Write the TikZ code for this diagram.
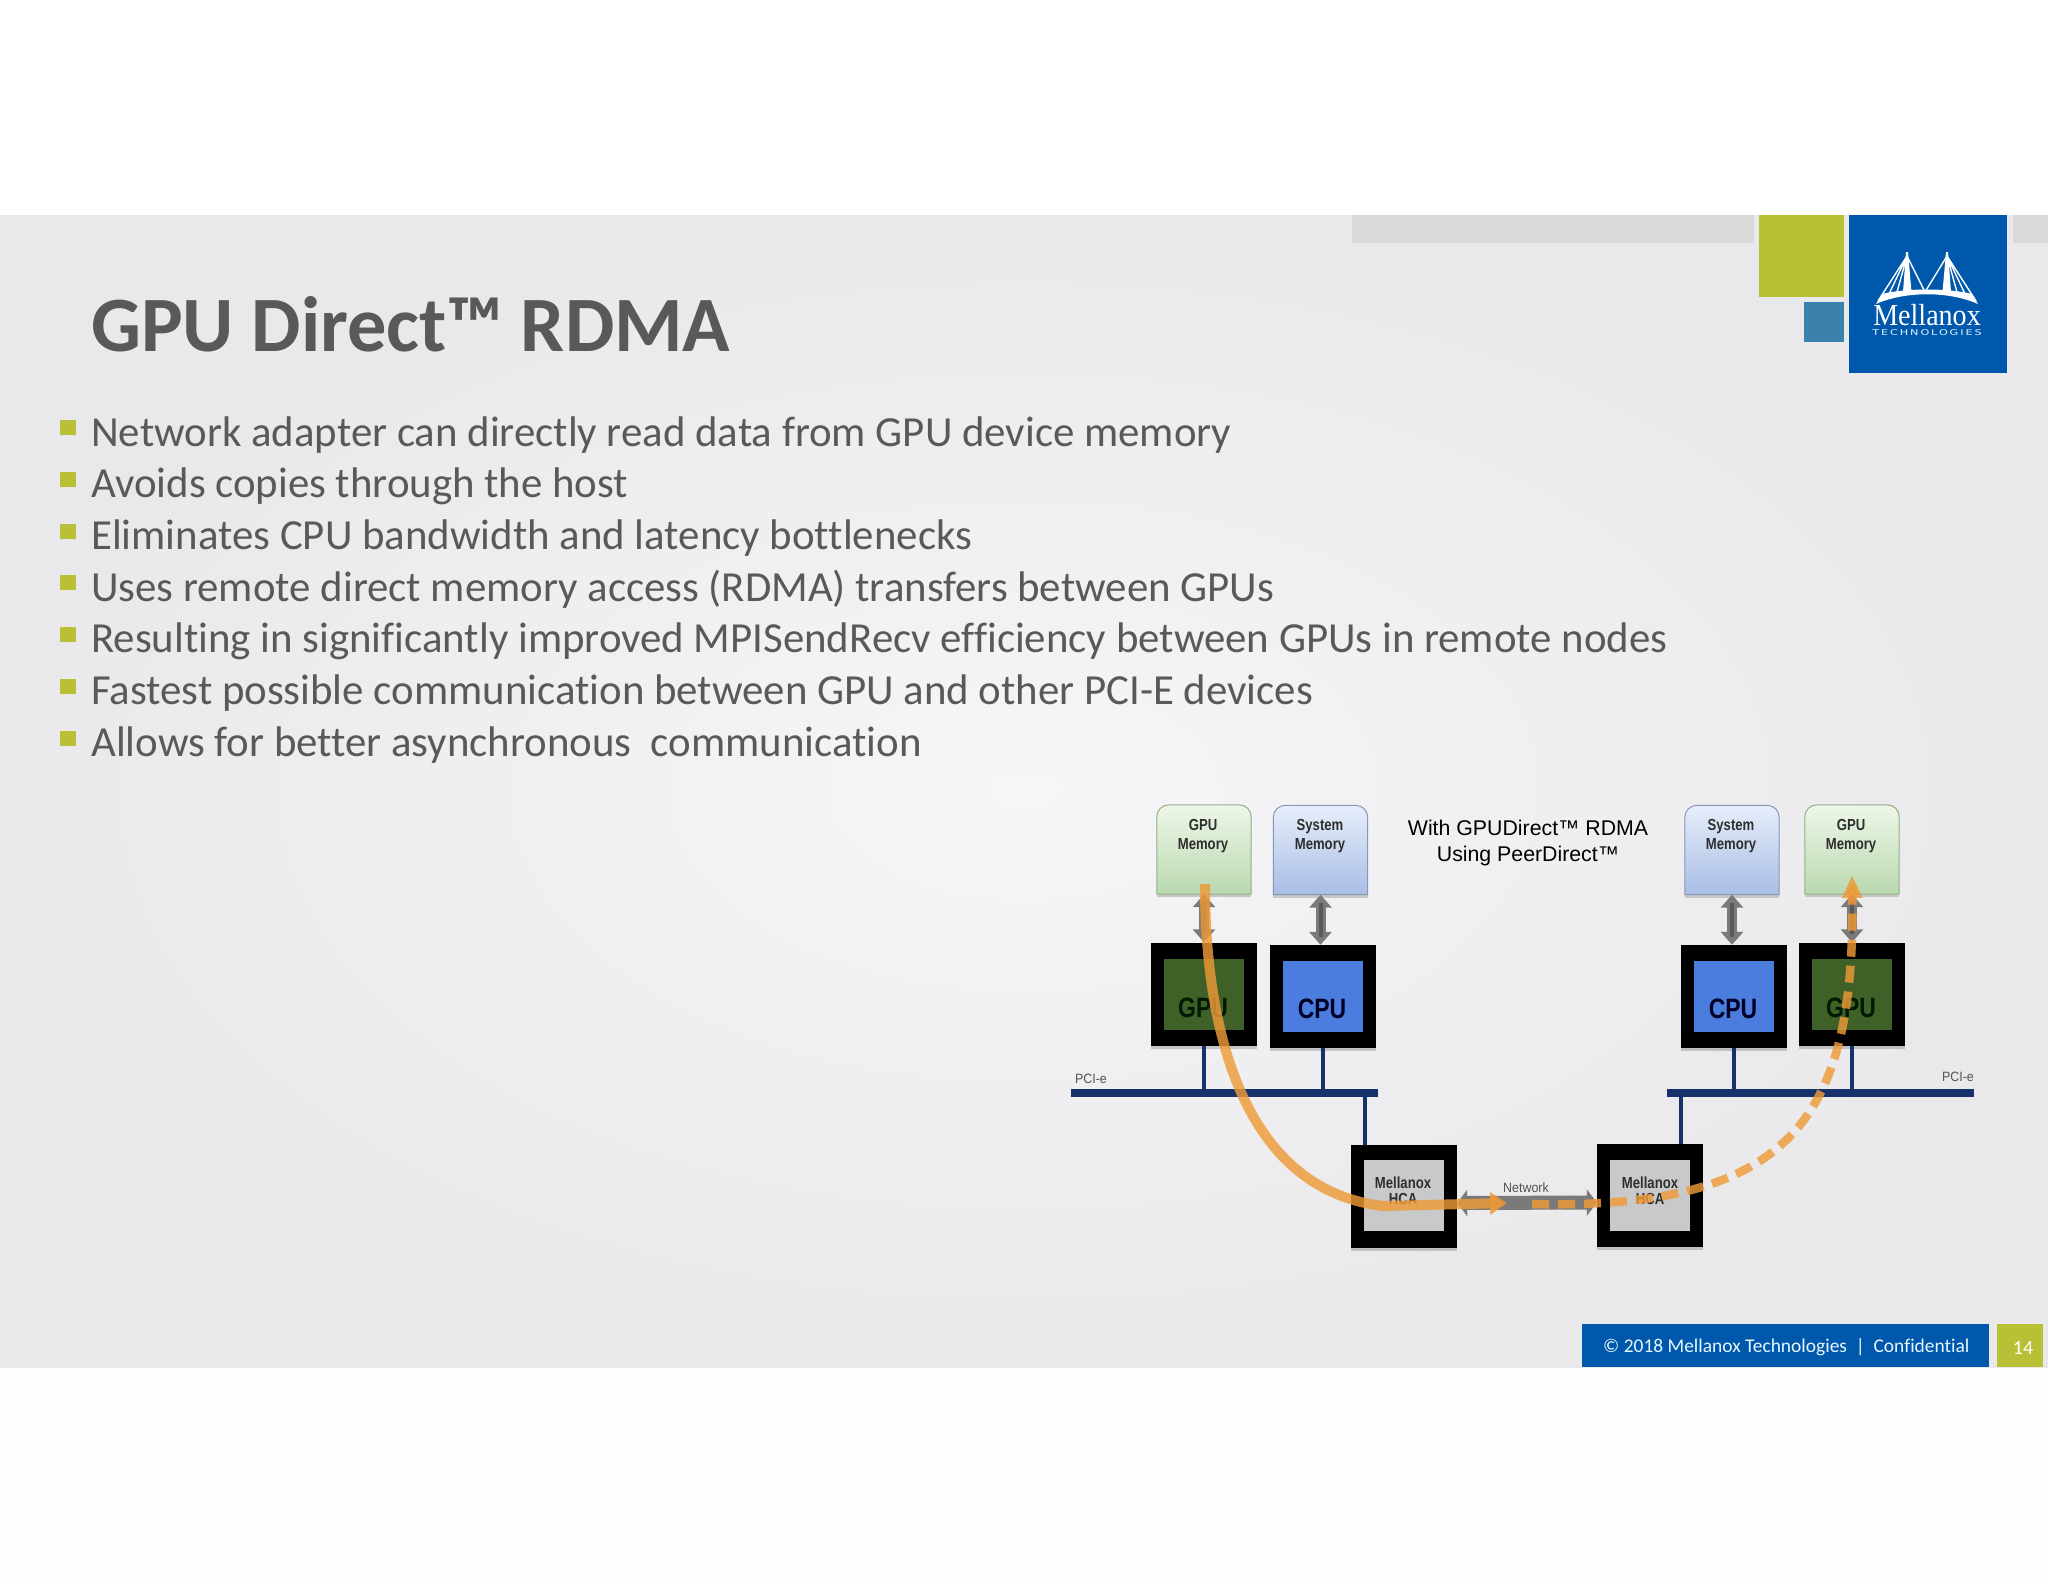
\documentclass[tikz,border=0pt]{standalone}
\usepackage{fontspec}
\usetikzlibrary{arrows.meta,shadows}
\setmainfont[Ligatures=NoCommon]{Carlito}
\newfontfamily\arialf{Liberation Sans}
\newfontfamily\smallf[FakeStretch=0.92]{Liberation Sans}
\newfontfamily\nbold[FakeStretch=0.82]{Liberation Sans Bold}
\newfontfamily\cbold[FakeStretch=0.82]{Liberation Sans Bold}
\newfontfamily\logoserif[FakeStretch=0.92]{Liberation Serif}
\newfontfamily\logosans[FakeStretch=1.4,LetterSpace=24]{DejaVu Sans}
\newcommand{\fsz}[1]{\fontsize{#1}{#1}\selectfont}
\definecolor{lime}{HTML}{B9C036}
\definecolor{mblue}{HTML}{0058AC}
\definecolor{sblue}{HTML}{3A82AD}
\definecolor{txt}{HTML}{59595B}
\definecolor{busblue}{HTML}{17316B}
\definecolor{flow}{HTML}{EE9A38}
\definecolor{gpuin}{HTML}{3F6127}
\definecolor{cpuin}{HTML}{4A7DDD}
\definecolor{hcain}{HTML}{C8C9CA}
\definecolor{slidein}{HTML}{F6F6F8}
\definecolor{slideout}{HTML}{E9E9EB}
\definecolor{gtop}{HTML}{EEF6E8}
\definecolor{gbot}{HTML}{B9D9AF}
\definecolor{btop}{HTML}{E6EEFA}
\definecolor{bbot}{HTML}{A9BDE6}
\tikzset{
  x=1pt,y=-1pt,
  bul/.style={fill=lime,draw=none,inner sep=0pt,minimum width=16pt,minimum height=15pt},
  bline/.style={anchor=base west,inner sep=0pt,text=txt,font=\fsz{42.85}},
  tile/.style={fill=#1,draw=none,inner sep=0pt},
  chip/.style={fill=black,draw=none,inner sep=0pt,minimum width=106pt,minimum height=103pt,
     drop shadow={shadow xshift=0pt,shadow yshift=-3pt,opacity=.18,fill=black}},
  inner/.style={fill=#1,draw=none,inner sep=0pt,minimum width=80pt,minimum height=71pt},
  memslot/.style={inner sep=0pt,minimum width=94pt,minimum height=89pt},
  memtxt/.style={inner sep=0pt,align=center,text=black!82,font=\nbold\fsz{16},execute at begin node={\baselineskip=19pt}},
  hcatxt/.style={inner sep=0pt,align=center,text=black!82,font=\nbold\fsz{16},execute at begin node={\baselineskip=16.5pt}},
  chiptxt/.style={inner sep=0pt,font=\cbold\fsz{28}},
  small/.style={inner sep=0pt,text=black!68,font=\smallf\fsz{13.5}},
  bus/.style={fill=busblue,draw=none,inner sep=0pt,minimum width=307pt,minimum height=8pt},
  tap/.style={draw=busblue,line width=4pt},
  hv/.style={draw=black!52,line width=10pt,{Triangle[length=13pt,width=22pt]}-{Triangle[length=13pt,width=22pt]}},
  hvcore/.style={draw=black!65,line width=4pt,shorten >=8pt,shorten <=8pt},
  flowline/.style={draw=flow,line width=10pt,opacity=.82},
  flowdash/.style={draw=flow,line width=8.5pt,opacity=.82,dash pattern=on 17pt off 9pt},
}
\newcommand{\memshape}[3]{% node, top colour, bottom colour
  \fill[black!22] ([yshift=-3pt]#1.south west) rectangle (#1.south east);
  \shade[top color=#2,bottom color=#3,draw=#3!80!black,line width=1pt,rounded corners=12pt]
    (#1.south west) -- (#1.north west) -- (#1.north east) [sharp corners] -- (#1.south east) -- cycle;}
\begin{document}
\begin{tikzpicture}
\useasboundingbox (0,0) rectangle (2048,1582);
\fill[white] (0,0) rectangle (2048,1582);
\fill[white!99.5!black] (0,1367) rectangle (2048,1582);
\shade[inner color=slidein,outer color=slideout] (0,215) rectangle (2048,1367);
% header tiles
\fill[black!15] (1352,215) rectangle (1754,243);
\fill[black!15] (2013,215) rectangle (2048,243);
\node[tile=lime,minimum width=85.5pt,minimum height=82pt,anchor=north west] (tlime) at (1758.5,215) {};
\node[tile=sblue,minimum width=40pt,minimum height=40pt,anchor=north west] (tblue) at (1804,302) {};
\node[tile=mblue,minimum width=158pt,minimum height=158pt,anchor=north west] (tlogo) at (1849,215) {};
% logo
\begin{scope}[white]
\fill (1876,304) .. controls (1905,291) and (1949,291) .. (1978,304) -- (1972,294) .. controls (1949,288) and (1905,288) .. (1882,294) -- cycle;
\fill (1906,252) -- (1903,292) -- (1911.5,292) -- (1908,252) -- cycle;
\fill (1946,252) -- (1942.5,292) -- (1951,292) -- (1948,252) -- cycle;
\draw[line width=1.4pt] (1907,256) -- (1878,301) (1907,256) -- (1889,294) (1907,256) -- (1925,292)
  (1947,256) -- (1976,301) (1947,256) -- (1965,294) (1947,256) -- (1925,292)
  (1907,256) -- (1897,292) (1947,256) -- (1957,292);
\end{scope}
\node[anchor=base,inner sep=0pt,text=white,font=\logoserif\fsz{30.5}] (lname) at (1927,325) {Mellanox};
\node[anchor=base,inner sep=0pt,text=white!85!cyan,font=\logosans\fsz{8}] (ltech) at (1927,335.5) {TECHNOLOGIES};
% title and bullets
\node[anchor=base west,inner sep=0pt,text=txt,font=\bfseries\fsz{78.4}] (title) at (91,351) {GPU Direct™ RDMA};
\node[bline] (b1) at (91,446) {Network adapter can directly read data from GPU device memory};
\node[bline] (b2) at (91,497.8) {Avoids copies through the host};
\node[bline] (b3) at (91,549.6) {Eliminates CPU bandwidth and latency bottlenecks};
\node[bline] (b4) at (91,601.2) {Uses remote direct memory access (RDMA) transfers between GPUs};
\node[bline] (b5) at (91,652.8) {Resulting in significantly improved MPISendRecv efficiency between GPUs in remote nodes};
\node[bline] (b6) at (91,704.6) {Fastest possible communication between GPU and other PCI-E devices};
\node[bline] (b7) at (91,756.8) {Allows for better asynchronous\ \ communication};
\node[bul] (s1) at (68,427.5) {};
\node[bul] (s2) at (68,479.3) {};
\node[bul] (s3) at (68,531.1) {};
\node[bul] (s4) at (68,582.9) {};
\node[bul] (s5) at (68,634.7) {};
\node[bul] (s6) at (68,686.5) {};
\node[bul] (s7) at (68,738.3) {};
% footer
\node[tile=mblue,minimum width=407pt,minimum height=43pt,anchor=north west] (foot) at (1582,1324) {};
\node[tile=lime,minimum width=46pt,minimum height=43pt,anchor=north west] (pg) at (1997,1324) {};
\node[anchor=west,inner sep=0pt,text=white!90!cyan,font=\fsz{19.45}] (ftxt) at (1603,1347) {© 2018 Mellanox Technologies\ \ |\ \ Confidential};
\node[inner sep=0pt,text=white,font=\fsz{20}] (pgn) at (2023,1348) {14};
% heading in the diagram
\node[inner sep=0pt,align=center,font=\arialf\fsz{21.3},execute at begin node={\baselineskip=26pt}] (head) at (1528,842.5) {With GPUDirect™ RDMA\\Using PeerDirect™};
% memory boxes
\node[memslot] (m1) at (1204,849.5) {};
\node[memslot] (m2) at (1320.5,850) {};
\node[memslot] (m3) at (1732,850) {};
\node[memslot] (m4) at (1852,849.5) {};
\memshape{m1}{gtop}{gbot}
\memshape{m2}{btop}{bbot}
\memshape{m3}{btop}{bbot}
\memshape{m4}{gtop}{gbot}
\node[memtxt] (m1t) at (1203,836.5) {GPU\\Memory};
\node[memtxt] (m2t) at (1320,836.5) {System\\Memory};
\node[memtxt] (m3t) at (1731,836.5) {System\\Memory};
\node[memtxt] (m4t) at (1851,836.5) {GPU\\Memory};
% chips
\node[chip] (g1) at (1204,994) {};
\node[chip] (c1) at (1323,996.5) {};
\node[chip] (c2) at (1734,996.5) {};
\node[chip] (g2) at (1852,994) {};
\node[chip] (h1) at (1404,1196) {};
\node[chip] (h2) at (1650,1195.5) {};
\node[inner=gpuin] (g1i) at (1204,994.5) {};
\node[inner=cpuin] (c1i) at (1322.5,996) {};
\node[inner=cpuin] (c2i) at (1734,996) {};
\node[inner=gpuin] (g2i) at (1852,994.5) {};
\node[inner=hcain] (h1i) at (1403.5,1195.5) {};
\node[inner=hcain] (h2i) at (1650,1195) {};
\node[chiptxt,text=black!90!green] (g1t) at (1203,1008) {GPU};
\node[chiptxt,text=black!85!blue] (c1t) at (1322,1009) {CPU};
\node[chiptxt,text=black!85!blue] (c2t) at (1733,1009) {CPU};
\node[chiptxt,text=black!90!green] (g2t) at (1851,1008) {GPU};
\node[hcatxt] (h1t) at (1403,1191) {Mellanox\\HCA};
\node[hcatxt] (h2t) at (1650,1191) {Mellanox\\HCA};
% buses
\node[bus] (bar1) at (1224.5,1093) {};
\node[bus] (bar2) at (1820.5,1093) {};
\coordinate (v1) at (1365,1145);
\coordinate (v2) at (1681,1144);
\draw[tap] (g1.south) -- (g1.south |- bar1.north);
\draw[tap] (c1.south) -- (c1.south |- bar1.north);
\draw[tap] (v1) -- (v1 |- bar1.south);
\draw[tap] (c2.south) -- (c2.south |- bar2.north);
\draw[tap] (g2.south) -- (g2.south |- bar2.north);
\draw[tap] (v2) -- (v2 |- bar2.south);
\node[small] (pl1) at (1091,1079) {PCI-e};
\node[small] (pl2) at (1958,1077) {PCI-e};
\node[small] (netl) at (1526,1188) {Network};
% grey double arrows
\draw[hv] (m1.south) -- (g1.north);
\draw[hvcore] (m1.south) -- (g1.north);
\draw[hv] (m2.south) -- (m2.south |- c1.north);
\draw[hvcore] (m2.south) -- (m2.south |- c1.north);
\draw[hv] (m3.south) -- (m3.south |- c2.north);
\draw[hvcore] (m3.south) -- (m3.south |- c2.north);
\draw[hv] (m4.south) -- (g2.north);
\draw[hvcore] (m4.south) -- (g2.north);
\draw[draw=black!52,line width=14pt,{Triangle[length=10pt,width=26pt]}-{Triangle[length=10pt,width=26pt]}] ([yshift=-7pt]h1.east) -- ([yshift=-7pt]h2.west);
% data flow
\coordinate (fa) at (1205,884);
\coordinate (fb) at (1383,1206);
\coordinate (fc) at (1507,1203);
\coordinate (fd) at (1532,1204);
\coordinate (fe) at (1852,875);
\draw[flowline,-{Triangle[length=17pt,width=22pt]}] (fa) .. controls (1205,1040) and (1248,1190) .. (fb) -- (fc);
\draw[flowdash,-{Triangle[length=23pt,width=19pt]}] (fd) .. controls (1790,1210) and (1855,1120) .. (fe);
\end{tikzpicture}
\end{document}
